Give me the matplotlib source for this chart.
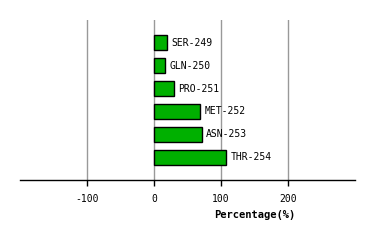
import matplotlib
matplotlib.use("Agg")
import matplotlib.pyplot as plt

residues = ["SER-249", "GLN-250", "PRO-251", "MET-252", "ASN-253", "THR-254"]
values = [19.5, 16.5, 30, 69, 72, 108]
xticks = [-100, 0, 100, 200]

fig = plt.figure(figsize=(3.74, 2.4), dpi=100)
ax = fig.add_axes([20/374, 1-180/240, 335/374, 160/240])
ys = list(range(len(residues)))
ax.barh(ys, values, height=0.66, color="#00b000", edgecolor="black", linewidth=1, zorder=3)
for y, v, lab in zip(ys, values, residues):
    ax.text(v + 6, y, lab, va="center", ha="left", fontsize=7, family="DejaVu Sans Mono", zorder=4)
ax.set_xlim(-200, 300)
ax.set_ylim(len(residues), -1)
ax.set_xticks(xticks)
ax.set_xticklabels([str(t) for t in xticks], family="DejaVu Sans Mono", fontsize=7)
ax.set_yticks([])
for t in xticks:
    ax.axvline(t, color="#999999", linewidth=1, zorder=1)
for s in ["top", "left", "right"]:
    ax.spines[s].set_visible(False)
ax.spines["bottom"].set_linewidth(1)
ax.tick_params(axis="x", length=4, width=1, color="black", pad=6)
fig.text(255/374, 1-215/240, "Percentage(%)", ha="center", va="center",
         fontsize=7.5, fontweight="bold", family="DejaVu Sans Mono")
fig.savefig("out.png", dpi=100)
